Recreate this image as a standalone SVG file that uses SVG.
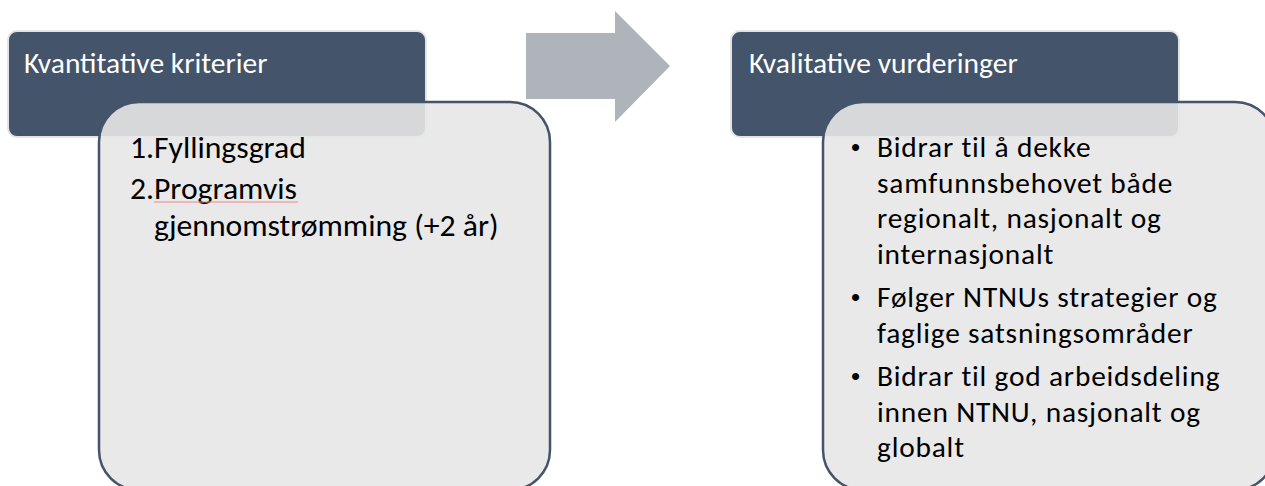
<svg xmlns="http://www.w3.org/2000/svg" width="1265" height="486" viewBox="0 0 1265 486">
<style>
.hdr{fill:#44546A;stroke:#E2E3E5;stroke-width:2}
.body{fill:#E7E7E7;fill-opacity:0.9;stroke:#44546A;stroke-width:2.5}
.ht{font-family:Carlito,Calibri,Lato,sans-serif;font-size:29.5px;fill:#FFFFFF}
.bt{font-family:Carlito,Calibri,Lato,sans-serif;font-size:31.7px;fill:#000000}
.rt{font-family:Carlito,Calibri,Lato,sans-serif;font-size:29.4px;letter-spacing:0.8px;fill:#000000}
.bul{font-family:"Liberation Sans",Arial,sans-serif;font-size:26px;fill:#000000}
.arrow{fill:#AFB3BA}
</style>
<rect width="1265" height="486" fill="#FFFFFF"/>
<g id="connectors">
<polygon class="arrow" points="526,33 615,33 615,11 670,66 615,122 615,99 526,99"/>
</g>
<g id="node-kvantitative">
<rect class="hdr" x="8" y="31" width="418" height="106" rx="9"/>
<text class="ht" x="24" y="73">Kvantitative kriterier</text>
<rect class="body" x="99" y="102" width="451" height="388" rx="40"/>
<text class="bt" x="130" y="158">1.<tspan x="154">Fyllingsgrad</tspan></text>
<text class="bt" x="130" y="199">2.<tspan x="154">Programvis</tspan><tspan x="154" y="236">gjennomstrømming (+2 år)</tspan></text>
<path d="M154,202 L298,202" stroke="#F08585" stroke-width="1.2"/>
</g>
<g id="node-kvalitative">
<rect class="hdr" x="731" y="31" width="448" height="106" rx="9"/>
<text class="ht" x="749" y="73">Kvalitative vurderinger</text>
<rect class="body" x="823" y="102" width="452" height="388" rx="40"/>
<text class="bul" x="851" y="156">•<tspan x="851" y="306">•</tspan><tspan x="851" y="385">•</tspan></text>
<text class="rt" x="877" y="157">Bidrar til å dekke<tspan x="877" y="192.5">samfunnsbehovet både</tspan><tspan x="877" y="228">regionalt, nasjonalt og</tspan><tspan x="877" y="263.5">internasjonalt</tspan></text>
<text class="rt" x="877" y="307">Følger NTNUs strategier og<tspan x="877" y="342.5">faglige satsningsområder</tspan></text>
<text class="rt" x="877" y="386">Bidrar til god arbeidsdeling<tspan x="877" y="421.5">innen NTNU, nasjonalt og</tspan><tspan x="877" y="457">globalt</tspan></text>
</g>
</svg>
